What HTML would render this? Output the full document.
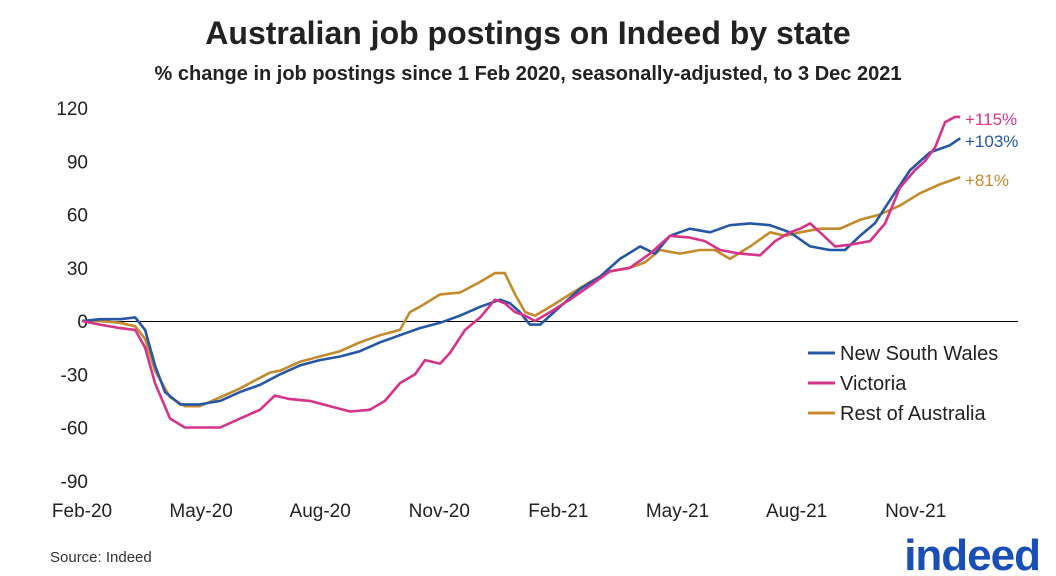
<!DOCTYPE html>
<html><head><meta charset="utf-8">
<style>
body{margin:0;background:#fff;width:1056px;height:576px;overflow:hidden;font-family:"Liberation Sans",sans-serif;}
svg{display:block}
</style></head>
<body>
<svg id="chart" width="1056" height="576">
<text x="528" y="44" text-anchor="middle" font-size="32" font-weight="bold" fill="#222">Australian job postings on Indeed by state</text>
<text x="528" y="80" text-anchor="middle" font-size="20" font-weight="bold" fill="#222">% change in job postings since 1 Feb 2020, seasonally-adjusted, to 3 Dec 2021</text>
<g id="axes"></g>
<g id="series"></g>
<text x="50" y="562" font-size="15" fill="#333">Source: Indeed</text>
<text x="1040" y="570" text-anchor="end" font-size="44" font-weight="bold" fill="#1a4fb5" letter-spacing="-1">indeed</text>
</svg>
<script>
const yTicks=[120,90,60,30,0,-30,-60,-90];
const xLabels=["Feb-20","May-20","Aug-20","Nov-20","Feb-21","May-21","Aug-21","Nov-21"];
const xLabelMonths=[0,3,6,9,12,15,18,21];
const nswM=[0,0.45,0.96,1.34,1.59,1.84,2.09,2.47,2.97,3.48,3.98,4.48,4.99,5.49,5.99,6.50,7.00,7.51,8.01,8.51,9.02,9.52,10.03,10.53,10.78,11.03,11.28,11.54,12.04,12.54,13.05,13.55,14.06,14.43,14.81,15.31,15.82,16.32,16.83,17.33,17.83,18.09,18.34,18.84,19.22,19.60,19.97,20.35,20.86,21.36,21.86,22.12];
const nswV=[0,1,1,2,-5,-25,-40,-47,-47,-45,-40,-36,-30,-25,-22,-20,-17,-12,-8,-4,-1,3,8,12,10,5,-2,-2,8,18,25,35,42,38,48,52,50,54,55,54,50,46,42,40,40,48,55,68,85,95,99,103];
const vicM=[0,0.45,0.96,1.34,1.59,1.84,2.22,2.59,2.97,3.48,3.98,4.48,4.86,5.24,5.74,6.25,6.75,7.25,7.63,8.01,8.39,8.64,9.02,9.27,9.65,10.03,10.40,10.65,10.91,11.16,11.41,11.79,12.29,12.80,13.30,13.80,14.31,14.81,15.31,15.69,16.07,16.57,17.08,17.46,17.83,18.09,18.34,18.59,18.97,19.35,19.85,20.23,20.60,20.98,21.23,21.49,21.74,21.99,22.12];
const vicV=[0,-2,-4,-5,-15,-35,-55,-60,-60,-60,-55,-50,-42,-44,-45,-48,-51,-50,-45,-35,-30,-22,-24,-18,-5,2,12,10,5,3,0,5,12,20,28,30,38,48,47,45,40,38,37,45,50,52,55,50,42,43,45,55,75,85,90,98,112,115,115];
const restM=[0,0.45,0.96,1.34,1.59,1.84,2.22,2.59,2.97,3.48,3.98,4.48,4.74,4.99,5.49,5.99,6.50,7.00,7.51,8.01,8.26,8.51,9.02,9.52,10.03,10.40,10.65,10.91,11.16,11.41,11.79,12.29,12.80,13.30,13.80,14.18,14.56,15.06,15.57,15.94,16.32,16.83,17.33,17.71,18.09,18.59,19.09,19.60,20.10,20.60,21.11,21.61,21.99,22.12];
const restV=[0,0,-1,-3,-10,-28,-43,-48,-48,-43,-38,-32,-29,-28,-23,-20,-17,-12,-8,-5,5,8,15,16,22,27,27,15,5,3,8,15,22,28,30,33,40,38,40,40,35,42,50,48,50,52,52,57,60,65,72,77,80,81];
const NS="http://www.w3.org/2000/svg";
const X=m=>82+m*39.7;
const Y=v=>321-v*1.775;
const ax=document.getElementById('axes'),sg=document.getElementById('series');
function mk(tag,attrs,parent){const e=document.createElementNS(NS,tag);for(const k in attrs)e.setAttribute(k,attrs[k]);parent.appendChild(e);return e;}
yTicks.forEach(v=>{const t=mk('text',{x:88,y:Y(v)+7,'text-anchor':'end','font-size':19,fill:'#222'},ax);


t.textContent=v;});
xLabels.forEach((l,i)=>{const t=mk('text',{x:X(xLabelMonths[i]),y:517,'text-anchor':'middle','font-size':19,fill:'#222'},ax);


t.textContent=l;});
const zl=mk('line',{x1:82,x2:1018,y1:Y(0)+0.5,y2:Y(0)+0.5,stroke:'#000','stroke-width':1},ax);


const series=[[nswM,nswV,'#2557a7','nsw-line','+103%',Y(103)+3],[vicM,vicV,'#d6338a','victoria-line','+115%',Y(115)+2],[restM,restV,'#c48a2c','rest-of-australia-line','+81%',Y(81)+3]];
[series[2],series[0],series[1]].forEach(s=>{
const d=s[0].map((m,i)=>(i?'L':'M')+X(m).toFixed(1)+','+Y(s[1][i]).toFixed(1)).join('');
const p=mk('path',{d:d,fill:'none',stroke:s[2],'stroke-width':2.6,'stroke-linejoin':'round'},sg);


const t=mk('text',{x:965,y:s[5]+6,'font-size':17,fill:s[2]},sg);


t.textContent=s[4];
});
const leg=[['New South Wales','#2557a7'],['Victoria','#d6338a'],['Rest of Australia','#c48a2c']];
leg.forEach((l,i)=>{const y=353+i*30;
const g=mk('g',{},sg);


mk('line',{x1:808,x2:835,y1:y,y2:y,stroke:l[1],'stroke-width':3},g);
const t=mk('text',{x:840,y:y+7,'font-size':20,fill:'#222'},g);t.textContent=l[0];});
</script>
</body></html>
